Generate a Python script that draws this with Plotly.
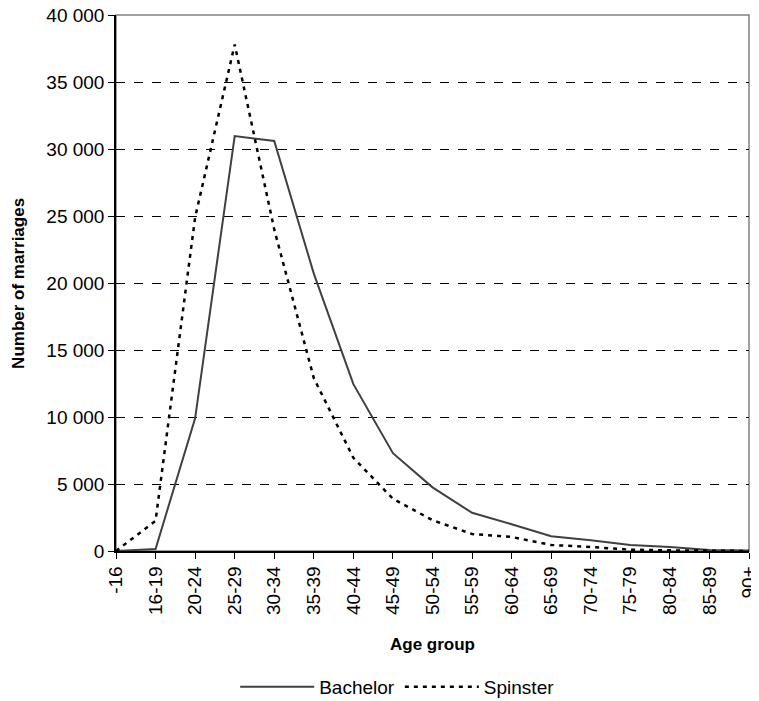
import plotly.graph_objects as go

# age groups and marriages counts
age_groups = ["-16", "16-19", "20-24", "25-29", "30-34", "35-39", "40-44", "45-49",
              "50-54", "55-59", "60-64", "65-69", "70-74", "75-79", "80-84", "85-89", "90+"]
bachelor = [0, 150, 9900, 30970, 30600, 20700, 12450, 7300, 4750, 2850, 2000,
            1100, 800, 450, 300, 80, 30]
spinster = [0, 2250, 24900, 37800, 24000, 12900, 6950, 3900, 2300, 1270, 1050,
            450, 300, 100, 50, 20, 0]
y_ticks = list(range(0, 40001, 5000))

font_family = "Liberation Sans, Arial, sans-serif"

fig = go.Figure()
fig.add_trace(go.Scatter(x=age_groups, y=bachelor, mode="lines", name="Bachelor",
                         line=dict(color="#404040", width=2)))
fig.add_trace(go.Scatter(x=age_groups, y=spinster, mode="lines", name="Spinster",
                         line=dict(color="black", width=2.5, dash="4px,5px")))

# grey frame on top/right
fig.add_shape(type="rect", xref="paper", yref="paper", x0=0, x1=1, y0=0, y1=1,
              line=dict(color="#808080", width=1.5), layer="below")

# axis titles placed as annotations
fig.add_annotation(text="<b>Number of marriages</b>", xref="paper", yref="paper",
                   x=-0.155, y=0.5, xanchor="center", yanchor="middle",
                   textangle=-90, showarrow=False, font=dict(size=17))
fig.add_annotation(text="<b>Age group</b>", xref="paper", yref="paper",
                   x=0.5, y=-0.175, xanchor="center", yanchor="middle",
                   showarrow=False, font=dict(size=17))

# page body adds an 8px margin, so offsets are shifted by 8px
fig.update_layout(
    width=760, height=715,
    margin=dict(l=108, r=19, t=7, b=172),
    plot_bgcolor="white", paper_bgcolor="white",
    font=dict(family=font_family, size=19, color="black"),
    separators=". ",
    showlegend=True,
    legend=dict(orientation="h", x=0.445, xanchor="center", y=-0.2537, yanchor="middle",
                itemwidth=74, font=dict(size=19), tracegroupgap=0),
    xaxis=dict(type="category", range=[0, 16], showgrid=False, automargin=False,
               ticklabeloverflow="allow",
               showline=True, linecolor="black", linewidth=1.5,
               ticks="outside", ticklen=6, tickcolor="black", tickangle=-90),
    yaxis=dict(range=[0, 40001], tickvals=y_ticks, tickformat=",d", automargin=False,
               ticklabeloverflow="allow",
               showgrid=True, gridcolor="black", gridwidth=1, griddash="dash",
               showline=True, linecolor="black", linewidth=1.5, zeroline=False,
               ticks="outside", ticklen=6, tickcolor="black"),
)

fig.write_html("out.html")
